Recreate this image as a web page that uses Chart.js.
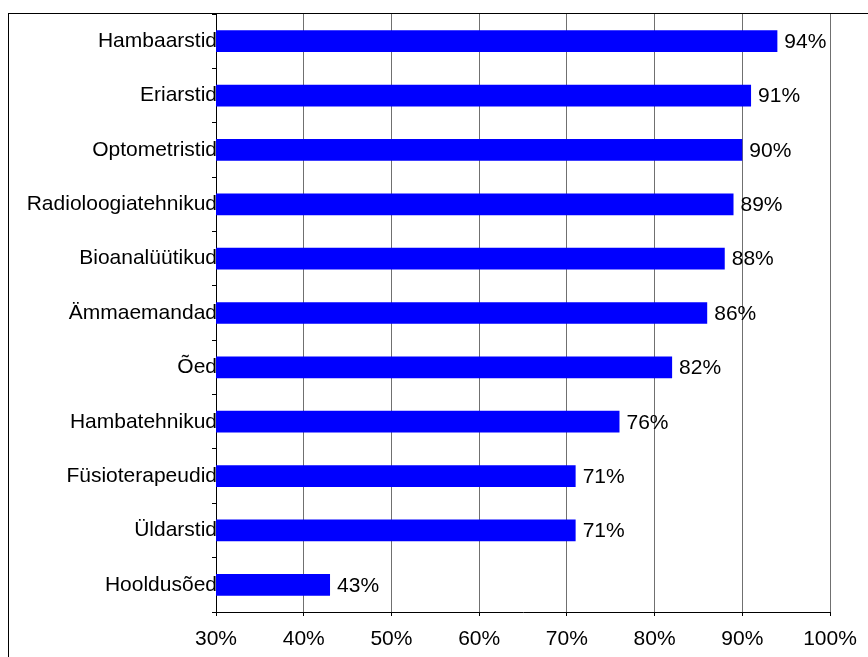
<!DOCTYPE html>
<html>
<head>
<meta charset="utf-8">
<script src="https://cdn.jsdelivr.net/npm/chart.js@4.4.1/dist/chart.umd.min.js"></script>
<style>
  html, body { margin: 0; padding: 0; background: #fff; }
  #wrap { position: relative; width: 868px; height: 657px; }
</style>
</head>
<body>
<div id="wrap"><canvas id="c" width="868" height="657"></canvas></div>
<script>
// Professions and the share (%) for each, top to bottom
const categories = [
  'Hambaarstid', 'Eriarstid', 'Optometristid', 'Radioloogiatehnikud',
  'Bioanalüütikud', 'Ämmaemandad', 'Õed', 'Hambatehnikud',
  'Füsioterapeudid', 'Üldarstid', 'Hooldusõed'
];
const shares = [94, 91, 90, 89, 88, 86, 82, 76, 71, 71, 43];
const tickValues = [30, 40, 50, 60, 70, 80, 90, 100];

const FONT = { family: 'Liberation Sans, Arial, sans-serif', size: 21 };

// Thin outer frame of the chart
const framePlugin = {
  id: 'frame',
  beforeDraw(chart) {
    const ctx = chart.ctx;
    ctx.save();
    ctx.strokeStyle = '#000';
    ctx.lineWidth = 1;
    ctx.strokeRect(8.5, 13.5, 2000, 2000);
    ctx.restore();
  }
};

// Percentage labels just past the end of each bar
const valueLabels = {
  id: 'valueLabels',
  afterDatasetsDraw(chart) {
    const ctx = chart.ctx;
    const meta = chart.getDatasetMeta(0);
    ctx.save();
    ctx.font = FONT.size + 'px ' + FONT.family;
    ctx.fillStyle = '#000';
    ctx.textAlign = 'left';
    ctx.textBaseline = 'middle';
    meta.data.forEach((bar, i) => {
      ctx.fillText(shares[i] + '%', bar.x + 7, bar.y + 1);
    });
    ctx.restore();
  }
};

new Chart(document.getElementById('c'), {
  type: 'bar',
  data: {
    labels: categories,
    datasets: [{
      data: shares,
      backgroundColor: '#0000FF',
      borderWidth: 0,
      barPercentage: 0.8,
      categoryPercentage: 0.5
    }]
  },
  options: {
    indexAxis: 'y',
    responsive: false,
    animation: false,
    devicePixelRatio: 1,
    layout: { padding: { top: 14, right: 38, left: 0, bottom: 0 } },
    plugins: {
      legend: { display: false },
      tooltip: { enabled: false }
    },
    scales: {
      x: {
        type: 'linear',
        min: tickValues[0],
        max: tickValues[tickValues.length - 1],
        afterBuildTicks(scale) {
          scale.ticks = tickValues.map(v => ({ value: v }));
        },
        afterFit(scale) { scale.height = 45; },
        grid: {
          color: '#707070',
          lineWidth: 1,
          drawTicks: true,
          tickLength: 4,
          tickColor: '#000'
        },
        border: { display: true, color: '#000', width: 1 },
        ticks: {
          font: FONT,
          color: '#000',
          padding: 11,
          maxRotation: 0,
          callback: v => v + '%'
        }
      },
      y: {
        type: 'category',
        afterFit(scale) { scale.width = 216; },
        grid: {
          offset: true,
          drawOnChartArea: false,
          drawTicks: true,
          tickLength: 4,
          tickColor: '#000',
          color: '#000'
        },
        border: { display: true, color: '#000', width: 1 },
        ticks: {
          font: FONT,
          color: '#000',
          padding: -5,
          autoSkip: false
        }
      }
    }
  },
  plugins: [framePlugin, valueLabels]
});
</script>
</body>
</html>
